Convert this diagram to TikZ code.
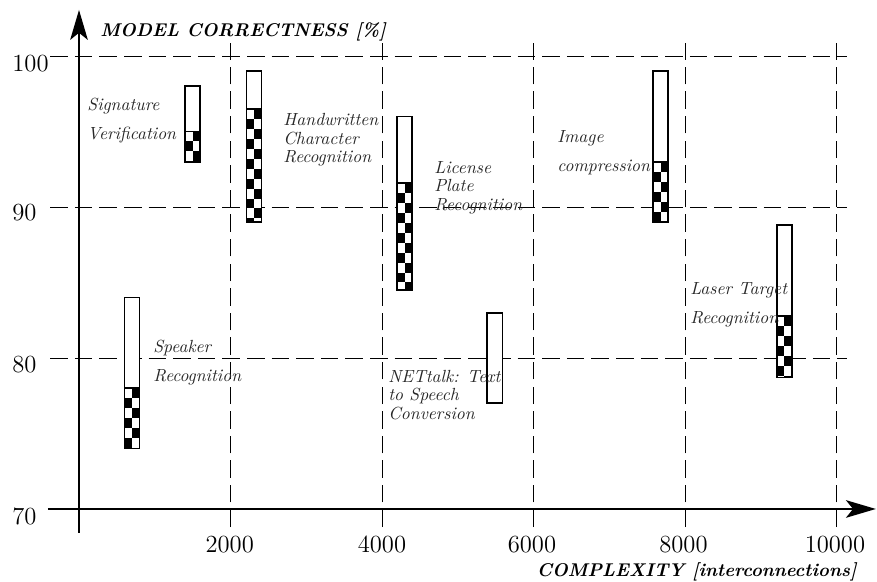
\documentclass[tikz,border=0pt]{standalone}
\usepackage{xcolor}
\usepackage{tikz}
\usetikzlibrary{arrows.meta}

\tikzset{
  gridline/.style={line width=0.5pt, dash pattern=on 10pt off 4pt},
  axisline/.style={line width=1.2pt, -{Stealth[length=17pt,width=10pt,inset=4pt]}},
  barline/.style={line width=1pt},
  ticklabel/.style={font=\fontsize{14}{16}\selectfont, inner sep=0pt},
  axislabel/.style={font=\fontsize{10.5}{12}\selectfont\bfseries\itshape, inner sep=0pt},
  task/.style={font=\fontsize{10}{10.5}\selectfont\itshape, text=black!85, align=left, anchor=west, inner sep=0pt}
}

% bar: x, lowest, top of checker, highest
\newcommand{\perfbar}[4]{
  \fill[white] (#1-0.1,#2) rectangle (#1+0.1,#4);
  \begin{scope}
    \clip (#1-0.1,#2) rectangle (#1+0.1,#3);
    \foreach \i in {0,...,20}{
      \pgfmathsetmacro{\ya}{#3-\i*0.66}
      \pgfmathsetmacro{\yb}{#3-(\i+1)*0.66}
      \ifodd\i
        \fill (#1-0.1,\ya) rectangle (#1,\yb);
      \else
        \fill (#1,\ya) rectangle (#1+0.1,\yb);
      \fi
    }
  \end{scope}
  \draw[barline] (#1-0.1,#2) rectangle (#1+0.1,#4);
  \draw[barline] (#1-0.1,#3) -- (#1+0.1,#3);
}

\begin{document}
\begin{tikzpicture}[x=1.515cm, y=0.302cm]

\useasboundingbox (-1.043,65.166) rectangle (10.535,103.71);

% grid
\foreach \v in {80,90,100}{
  \draw[gridline] (-0.38,\v) -- (10.14,\v);
}
\foreach \u in {2,4,6,8,10}{
  \draw[gridline] (\u,68.8) -- (\u,100.86);
}

% axes
\coordinate (ybottom) at (0,68.41);
\coordinate (ytop) at (0,103.05);
\coordinate (xleft) at (-0.41,70);
\coordinate (xright) at (10.52,70);
\draw[axisline] (ybottom) -- (ytop);
\draw[axisline] (xleft) -- (xright);

\node[axislabel, anchor=base west] (ytitle) at (0.277,101.32) {MODEL CORRECTNESS [\%]};
\node[axislabel, anchor=base east] (xtitle) at (10.27,65.5) {COMPLEXITY [interconnections]};

\node[ticklabel, anchor=west] (y100) at (-0.884,99.5) {100};
\node[ticklabel, anchor=west] (y90) at (-0.884,89.65) {90};
\node[ticklabel, anchor=west] (y80) at (-0.884,79.55) {80};
\node[ticklabel, anchor=west] (y70) at (-0.884,69.5) {70};

\node[ticklabel] (x2) at (1.99,67.62) {2000};
\node[ticklabel] (x4) at (4.0,67.62) {4000};
\node[ticklabel] (x6) at (5.98,67.62) {6000};
\node[ticklabel] (x8) at (7.98,67.62) {8000};
\node[ticklabel] (x10) at (9.98,67.62) {10000};

% bars
\perfbar{0.70}{74}{78}{84}
\perfbar{1.50}{93}{95}{98}
\perfbar{2.31}{89}{96.5}{99}
\perfbar{4.30}{84.5}{91.6}{96}
\perfbar{7.68}{89}{93}{99}
\perfbar{9.31}{78.7}{82.8}{88.8}
\draw[barline, fill=white] (5.39,77) rectangle (5.59,83);

% applications
\node[task] (speaker) at (0.977,79.7) {Speaker\\[6pt]Recognition};
\node[task] (signature) at (0.106,95.73) {Signature\\[6pt]Verification};
\node[task] (handwritten) at (2.693,94.44) {Handwritten\\Character\\Recognition};
\node[task] (license) at (4.686,91.3) {License\\Plate\\Recognition};
\node[task] (nettalk) at (4.079,77.55) {NETtalk: Text\\to Speech\\Conversion};
\node[task] (image) at (6.31,93.61) {Image\\[6pt]compression};
\node[task] (laser) at (8.066,83.51) {Laser Target\\[6pt]Recognition};

\end{tikzpicture}
\end{document}
